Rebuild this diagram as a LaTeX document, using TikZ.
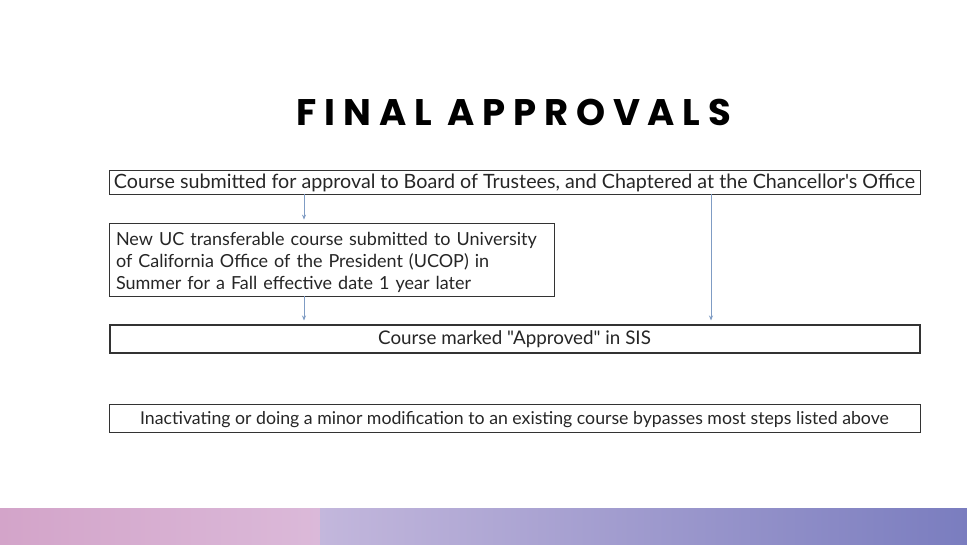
\documentclass[tikz,border=0pt]{standalone}
\usepackage{fontspec}
\setmainfont{Lato}[Ligatures=TeXOff]
\newfontfamily\titlefont[LetterSpace=21]{Poppins}
\usetikzlibrary{arrows.meta}
\definecolor{arrowblue}{HTML}{7F9CC4}
\definecolor{boxline}{HTML}{333333}
\definecolor{txt}{HTML}{262626}
\definecolor{pinkA}{HTML}{D3A4C9}
\definecolor{pinkB}{HTML}{DBB9D9}
\definecolor{lavA}{HTML}{C3B7DC}
\definecolor{lavB}{HTML}{7A7DBF}
\tikzset{
  flowbox/.style={draw=boxline, line width=0.8pt, text=txt, inner sep=0pt, align=center},
  onebox/.style={flowbox, text depth=1pt},
  arr/.style={draw=arrowblue, line width=0.8pt, -{Stealth[length=5pt,width=4pt]}, shorten >=3pt}
}
\begin{document}
\begin{tikzpicture}[x=1pt,y=-1pt]
\useasboundingbox (0,0) rectangle (967,544);
\fill[white] (0,0) rectangle (967,544);
\shade[left color=pinkA, right color=pinkB] (0,508) rectangle (320,544);
\shade[left color=lavA, right color=lavB] (320,508) rectangle (967,544);

\node[text=black, font=\titlefont\bfseries\fontsize{37}{37}\selectfont] (title) at (514,112) {FINAL APPROVALS};

\node[onebox, minimum width=811pt, minimum height=24pt, font=\fontsize{19.7}{22}\selectfont] (box1) at (514.5,182) {Course submitted for approval to Board of Trustees, and Chaptered at the Chancellor's Office};

\node[flowbox, minimum width=445pt, minimum height=73pt, text width=431pt, inner xsep=7pt, align=left, font=\fontsize{18}{22}\selectfont] (box2) at (331.5,259.5) {\rule{0pt}{19pt}New UC transferable course submitted to University\\of California Office of the President (UCOP) in\\Summer for a Fall effective date 1 year later};

\node[onebox, line width=2pt, minimum width=810pt, minimum height=28pt, font=\fontsize{18.8}{20}\selectfont] (box3) at (514.5,338.5) {Course marked "Approved" in SIS};

\node[onebox, minimum width=811pt, minimum height=28pt, font=\fontsize{17.7}{20}\selectfont] (box4) at (514.5,418) {Inactivating or doing a minor modification to an existing course bypasses most steps listed above};

\coordinate (c1) at (304,0);
\coordinate (c2) at (711,0);
\draw[arr] (c1 |- box1.south) -- (c1 |- box2.north);
\draw[arr] (c1 |- box2.south) -- (c1 |- box3.north);
\draw[arr] (c2 |- box1.south) -- (c2 |- box3.north);
\end{tikzpicture}
\end{document}
